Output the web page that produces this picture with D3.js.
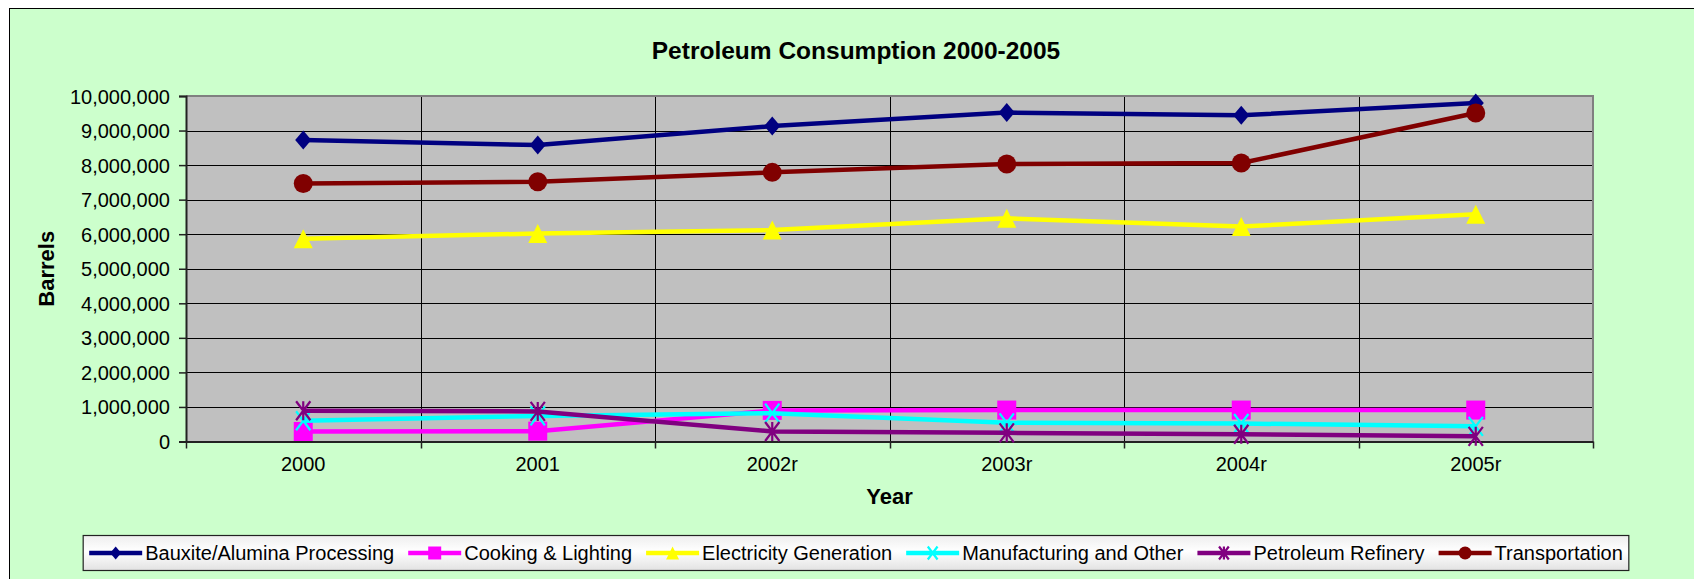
<!DOCTYPE html>
<html>
<head>
<meta charset="utf-8">
<script src="https://cdn.jsdelivr.net/npm/d3@7/dist/d3.min.js"></script>
<style>
  html, body { margin: 0; padding: 0; background: #ffffff; }
  svg { display: block; }
  text { font-family: "Liberation Sans", Arial, sans-serif; fill: #000; }
</style>
</head>
<body>
<svg id="chart" width="1694" height="579"></svg>
<script>
// ---- data ----
const years = ["2000", "2001", "2002r", "2003r", "2004r", "2005r"];
const seriesNames = ["Bauxite/Alumina Processing", "Cooking & Lighting", "Electricity Generation",
                     "Manufacturing and Other", "Petroleum Refinery", "Transportation"];
const bauxite       = [8730000, 8580000, 9130000, 9520000, 9440000, 9800000];
const cooking       = [290000, 300000, 900000, 910000, 910000, 910000];
const electricity   = [5870000, 6020000, 6120000, 6460000, 6220000, 6580000];
const manufacturing = [600000, 740000, 820000, 540000, 520000, 440000];
const refinery      = [890000, 870000, 290000, 250000, 210000, 150000];
const transport     = [7470000, 7520000, 7790000, 8030000, 8060000, 9510000];
const yTicks = [0, 1000000, 2000000, 3000000, 4000000, 5000000, 6000000, 7000000, 8000000, 9000000, 10000000];
const titleText = "Petroleum Consumption 2000-2005";
const xTitle = "Year";
const yTitle = "Barrels";

// ---- styles ----
const colors  = ["#000080", "#FF00FF", "#FFFF00", "#00FFFF", "#800080", "#800000"];
const markers = ["diamond", "square", "triangle", "x", "star", "circle"];
const values  = [bauxite, cooking, electricity, manufacturing, refinery, transport];

const svg = d3.select("#chart");
const W = 1694, H = 579;
const plot = { left: 186, right: 1593, top: 96, bottom: 441.5 };

// chart area
svg.append("rect").attr("x", 9.5).attr("y", 8.5).attr("width", 1750).attr("height", 640)
  .attr("fill", "#CCFFCC").attr("stroke", "#000").attr("stroke-width", 1);

// title
svg.append("text").attr("x", 856).attr("y", 50).attr("text-anchor", "middle")
  .attr("dominant-baseline", "central").style("font-size", "24.5px").style("font-weight", "bold")
  .text(titleText);

const x = d3.scaleBand().domain(years).range([plot.left, plot.right]).paddingInner(0).paddingOuter(0);
const y = d3.scaleLinear().domain([0, 10000000]).range([plot.bottom, plot.top]);

// plot background
svg.append("rect").attr("x", plot.left).attr("y", plot.top)
  .attr("width", plot.right - plot.left).attr("height", plot.bottom - plot.top)
  .attr("fill", "#C0C0C0");

// horizontal gridlines
svg.append("g").selectAll("line").data(yTicks.filter(d => d > 0 && d < 10000000)).join("line")
  .attr("x1", plot.left).attr("x2", plot.right)
  .attr("y1", d => Math.round(y(d)) + 0.5).attr("y2", d => Math.round(y(d)) + 0.5)
  .attr("stroke", "#000").attr("stroke-width", 1.2);

// vertical gridlines at category boundaries
const bounds = years.slice(1).map(d => x(d));
svg.append("g").selectAll("line").data(bounds).join("line")
  .attr("x1", d => Math.round(d) + 0.5).attr("x2", d => Math.round(d) + 0.5)
  .attr("y1", plot.top).attr("y2", plot.bottom)
  .attr("stroke", "#000").attr("stroke-width", 1);

// plot border (gray) top & right
svg.append("path")
  .attr("d", `M${plot.left},${plot.top}H${plot.right}V${plot.bottom}`)
  .attr("fill", "none").attr("stroke", "#808080").attr("stroke-width", 2);

// y axis
const yAxis = d3.axisLeft(y).tickValues(yTicks).tickSize(7).tickPadding(9)
  .tickFormat(d3.format(","));
const gy = svg.append("g").attr("transform", `translate(${plot.left},0)`).call(yAxis);
gy.select(".domain").attr("stroke", "#222").attr("stroke-width", 2);
gy.selectAll(".tick line").attr("stroke", "#222").attr("stroke-width", 1.5);
gy.selectAll(".tick text").style("font-size", "20px").style("font-family", "'Liberation Sans', Arial, sans-serif")
  .attr("fill", "#000").attr("dy", "0.35em");

// x axis
const xAxis = d3.axisBottom(x).tickSize(0).tickPadding(20);
const gx = svg.append("g").attr("transform", `translate(0,${plot.bottom})`).call(xAxis);
gx.select(".domain").attr("stroke", "#222").attr("stroke-width", 2);
gx.selectAll(".tick text").style("font-size", "20px").style("font-family", "'Liberation Sans', Arial, sans-serif")
  .attr("fill", "#000").attr("y", 29).attr("dy", "0");
// x tick marks at boundaries
svg.append("g").selectAll("line").data([plot.left, ...bounds, plot.right]).join("line")
  .attr("x1", d => Math.round(d) + 0.5).attr("x2", d => Math.round(d) + 0.5)
  .attr("y1", plot.bottom).attr("y2", plot.bottom + 7)
  .attr("stroke", "#222").attr("stroke-width", 1.5);

// axis titles
svg.append("text").attr("x", (plot.left + plot.right) / 2).attr("y", 496)
  .attr("text-anchor", "middle").attr("dominant-baseline", "central")
  .style("font-size", "22px").style("font-weight", "bold").text(xTitle);
svg.append("text").attr("transform", `translate(46,${(plot.top + plot.bottom) / 2}) rotate(-90)`)
  .attr("text-anchor", "middle").attr("dominant-baseline", "central")
  .style("font-size", "22px").style("font-weight", "bold").text(yTitle);

// marker drawing
function drawMarker(g, type, color, s) {
  const h = s / 2;
  if (type === "diamond") {
    g.append("path").attr("d", `M0,${-h}L${h * 0.85},0L0,${h}L${-h * 0.85},0Z`).attr("fill", color);
  } else if (type === "square") {
    g.append("rect").attr("x", -h).attr("y", -h).attr("width", s).attr("height", s).attr("fill", color);
  } else if (type === "triangle") {
    g.append("path").attr("d", `M0,${-h}L${h},${h}L${-h},${h}Z`).attr("fill", color);
  } else if (type === "circle") {
    g.append("circle").attr("r", h).attr("fill", color);
  } else if (type === "x") {
    const a = h * 0.75;
    g.append("path").attr("d", `M${-a},${-h}L${a},${h}M${a},${-h}L${-a},${h}`)
      .attr("stroke", color).attr("stroke-width", 2.2).attr("fill", "none");
  } else if (type === "star") {
    const a = h * 0.75;
    g.append("path").attr("d", `M${-a},${-h}L${a},${h}M${a},${-h}L${-a},${h}M0,${-h}V${h}`)
      .attr("stroke", color).attr("stroke-width", 2.2).attr("fill", "none");
  }
}

const line = d3.line().x((d, i) => x(years[i]) + x.bandwidth() / 2).y(d => y(d));
values.forEach((vals, si) => {
  const g = svg.append("g");
  g.append("path").datum(vals).attr("d", line).attr("fill", "none")
    .attr("stroke", colors[si]).attr("stroke-width", 4.5).attr("stroke-linejoin", "round");
  vals.forEach((v, i) => {
    const mg = g.append("g").attr("transform", `translate(${x(years[i]) + x.bandwidth() / 2},${y(v)})`);
    drawMarker(mg, markers[si], colors[si], 19);
  });
});

// legend
const defs = svg.append("defs");
const grad = defs.append("linearGradient").attr("id", "lg").attr("x1", 0).attr("y1", 0).attr("x2", 0).attr("y2", 1);
grad.append("stop").attr("offset", "0%").attr("stop-color", "#eeeeee");
grad.append("stop").attr("offset", "45%").attr("stop-color", "#ffffff");
grad.append("stop").attr("offset", "100%").attr("stop-color", "#e2e2e2");

const legend = svg.append("g");
const legBox = legend.append("rect").attr("fill", "url(#lg)").attr("stroke", "#222").attr("stroke-width", 1.2);
const legY = 553;
let cx = 0;
const items = [];
seriesNames.forEach((name, si) => {
  const ig = legend.append("g");
  ig.append("line").attr("x1", 0).attr("x2", 53).attr("y1", 0).attr("y2", 0)
    .attr("stroke", colors[si]).attr("stroke-width", 4.5);
  const mg = ig.append("g").attr("transform", "translate(26.5,0)");
  drawMarker(mg, markers[si], colors[si], 13);
  const t = ig.append("text").attr("x", 56).attr("y", 0).attr("dominant-baseline", "central")
    .style("font-size", "20px").text(name);
  const w = 56 + t.node().getComputedTextLength();
  items.push({ g: ig, x: cx });
  cx += w + 14;
});
const totalW = cx - 14 + 12;
const legLeft = 856 - totalW / 2;
items.forEach(it => it.g.attr("transform", `translate(${legLeft + 6 + it.x},${legY})`));
legBox.attr("x", legLeft).attr("y", 535.5).attr("width", totalW).attr("height", 35);
</script>
</body>
</html>
